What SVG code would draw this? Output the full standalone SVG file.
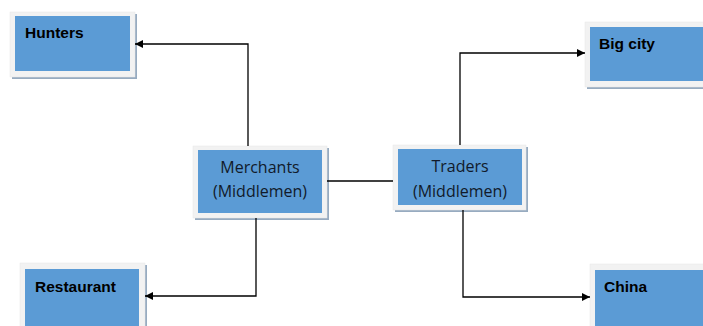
<svg xmlns="http://www.w3.org/2000/svg" width="703" height="326" viewBox="0 0 703 326">
<style>
.shadow{fill:#97abc0}
.frame{fill:#f2f2f2;stroke:#e6e6e6;stroke-width:0.5}
.fill{fill:#5b9bd5}
.lbl{font-family:"Liberation Sans","Open Sans",sans-serif;font-size:15.5px;font-weight:bold;fill:#000}
.mid{font-family:"Open Sans","Liberation Sans",sans-serif;font-size:16px;fill:#111a2a;text-anchor:middle}
.wire{fill:none;stroke:#000;stroke-width:1.3}
</style>
<defs>
<marker id="arr" viewBox="0 0 10 10" refX="10" refY="5" markerWidth="10" markerHeight="8" markerUnits="userSpaceOnUse" orient="auto">
<path d="M0,0 L10,5 L0,10 Z" fill="#000"/>
</marker>
</defs>
<rect width="703" height="326" fill="#fff"/>
<g id="hunters">
<rect class="shadow" x="12" y="14" width="125" height="65"/>
<rect class="frame" x="10" y="12" width="125" height="65"/>
<rect class="fill" x="15" y="16" width="115" height="55"/>
<text class="lbl" x="25" y="38">Hunters</text>
</g>
<g id="bigcity">
<rect class="shadow" x="587" y="24" width="120" height="65"/>
<rect class="frame" x="585" y="22" width="120" height="65"/>
<rect class="fill" x="590" y="27" width="115" height="54"/>
<text class="lbl" x="599" y="49">Big city</text>
</g>
<g id="merchants">
<rect class="shadow" x="195" y="148" width="134" height="72"/>
<rect class="frame" x="193" y="146" width="134" height="72"/>
<rect class="fill" x="198" y="150" width="124" height="63"/>
<text class="mid" x="260" y="173">Merchants</text>
<text class="mid" x="260" y="197">(Middlemen)</text>
</g>
<g id="traders">
<rect class="shadow" x="395" y="147" width="133" height="65"/>
<rect class="frame" x="393" y="145" width="133" height="65"/>
<rect class="fill" x="398" y="149" width="124" height="56"/>
<text class="mid" x="460" y="172">Traders</text>
<text class="mid" x="460" y="197">(Middlemen)</text>
</g>
<g id="restaurant">
<rect class="shadow" x="22" y="265" width="125" height="70"/>
<rect class="frame" x="20" y="263" width="125" height="70"/>
<rect class="fill" x="25" y="269" width="114" height="60"/>
<text class="lbl" x="35" y="292">Restaurant</text>
</g>
<g id="china">
<rect class="shadow" x="592" y="266" width="120" height="70"/>
<rect class="frame" x="590" y="264" width="120" height="70"/>
<rect class="fill" x="595" y="270" width="115" height="60"/>
<text class="lbl" x="604" y="292">China</text>
</g>
<g id="connectors">
<path class="wire" d="M248,146 V44 H135" marker-end="url(#arr)"/>
<path class="wire" d="M327,181 H393"/>
<path class="wire" d="M460,145 V53 H585" marker-end="url(#arr)"/>
<path class="wire" d="M256,218 V296 H145" marker-end="url(#arr)"/>
<path class="wire" d="M463,210 V297 H590" marker-end="url(#arr)"/>
</g>
</svg>
